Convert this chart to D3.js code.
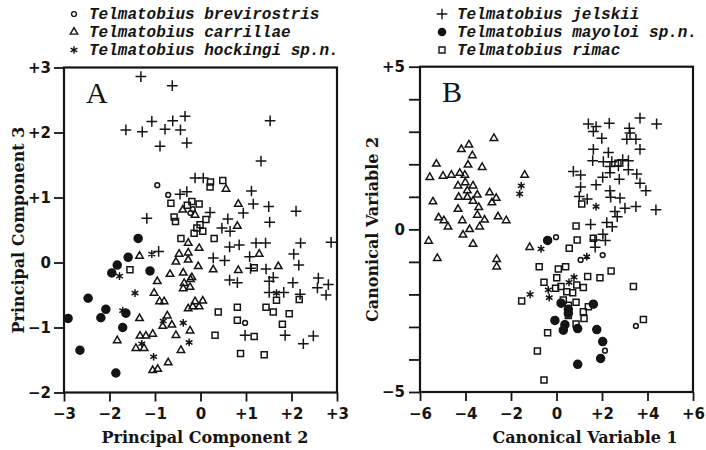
<!DOCTYPE html>
<html>
<head>
<meta charset="utf-8">
<script src="https://cdn.jsdelivr.net/npm/d3@7"></script>
<style>
    body { margin: 0; background: #fff; }
    svg text { fill: #141414; }
    .tick text { font-family: "DejaVu Sans", sans-serif; font-weight: bold; font-size: 15px; }
    .axis-title { font-family: "DejaVu Serif", serif; font-weight: bold; font-size: 16px; }
    .legend-text { font-family: "Liberation Mono", monospace; font-style: italic; font-weight: bold; font-size: 16px; }
    .panel-letter { font-family: "Liberation Serif", serif; font-size: 30px; }
</style>
</head>
<body>
<svg id="chart" width="706" height="450"></svg>
<script>
const species = ['Telmatobius brevirostris', 'Telmatobius carrillae', 'Telmatobius hockingi sp.n.',
    'Telmatobius jelskii', 'Telmatobius mayoloi sp.n.', 'Telmatobius rimac'];

// panel A: principal components (PC2, PC3)
const pcBrevirostris = [[-0.95,1.19],[-0.71,1.04],[-0.17,0.82],[-0.22,0.76],[0.98,-0.93]];
const pcCarrillae = [[0.56,1.13],[-0.39,0.81],[-0.12,0.73],[0.83,0.90],[0.81,0.56],[-0.27,0.30],[-0.03,0.22],
    [-0.47,0.13],[-0.27,0.15],[-0.54,0.01],[-0.27,0.04],[-0.05,-0.06],[1.29,0.13],[0.83,-0.12],[0.28,-0.11],
    [-0.67,-0.18],[-0.38,-0.16],[-0.19,-0.23],[1.71,-0.06],[-1.34,0.10],[-0.95,-0.29],[-1.02,-0.47],[-0.90,-0.60],
    [-0.80,-0.60],[-0.36,-0.32],[-0.22,-0.26],[-0.38,-0.40],[-0.23,-0.38],[-0.12,-0.60],[0.05,-0.59],[-0.27,-0.71],
    [-0.17,-0.68],[-0.03,-0.68],[-1.34,-0.86],[-0.73,-0.82],[-0.63,-0.96],[-0.83,-0.98],[-1.83,-1.20],[-1.33,-1.13],
    [-1.20,-1.13],[-1.05,-1.10],[-0.54,-1.12],[-0.23,-1.05],[-1.42,-1.32],[-1.24,-1.32],[-0.43,-1.35],[-0.71,-1.54],
    [-1.05,-1.66],[-0.94,-1.64]];
const pcHockingi = [[-1.07,0.13],[-1.78,-0.21],[-1.44,-0.47],[-1.71,-0.74],[-0.82,-0.90],[-0.38,-0.93],
    [-0.25,-1.23],[-1.29,-1.25],[-1.03,-1.45],[1.67,-0.47]];
const pcJelskii = [[-1.31,2.86],[-0.62,2.72],[-0.34,2.25],[-1.07,2.17],[-0.61,2.18],[-1.64,2.04],[-1.28,2.01],
    [-0.78,2.05],[-0.44,2.04],[1.53,2.18],[-0.89,1.79],[-0.30,1.84],[1.33,1.56],[-0.12,1.30],[0.06,1.30],
    [-0.45,1.05],[-0.30,1.09],[1.12,1.10],[1.16,0.90],[1.50,0.86],[2.10,0.79],[-1.18,0.68],[0.21,0.77],[0.60,0.67],
    [0.94,0.76],[1.52,0.62],[0.47,0.53],[0.65,0.48],[0.64,0.24],[0.85,0.27],[1.22,0.30],[1.43,0.30],[2.20,0.30],
    [2.87,0.31],[-0.92,0.17],[0.28,0.07],[0.53,0.03],[1.08,0.09],[2.05,0.13],[2.16,-0.04],[1.10,-0.09],[1.44,-0.10],
    [1.60,-0.23],[0.64,-0.27],[0.81,-0.31],[1.51,-0.29],[2.03,-0.31],[2.59,-0.24],[2.81,-0.34],[2.57,-0.39],
    [2.76,-0.50],[1.51,-0.46],[1.83,-0.46],[2.19,-0.49],[0.98,-1.12],[1.86,-1.12],[2.26,-1.25],[2.48,-1.13]];
const pcMayoloi = [[-1.37,0.37],[-1.59,0.08],[-1.83,-0.04],[-1.95,-0.16],[-1.11,-0.13],[-2.47,-0.55],[-2.08,-0.72],
    [-2.19,-0.85],[-1.64,-0.78],[-1.71,-1.00],[-2.91,-0.86],[-2.65,-1.35],[-1.86,-1.70]];
const pcRimac = [[0.22,1.24],[0.21,1.16],[0.49,1.26],[-0.65,0.91],[-0.29,0.88],[-0.19,0.94],[-0.03,0.90],
    [-0.58,0.70],[-0.55,0.63],[0.12,0.66],[-0.01,0.58],[-0.08,0.53],[0.05,0.48],[-0.14,0.45],[-0.43,0.37],
    [0.30,0.37],[1.18,-0.08],[-1.55,-0.11],[0.39,-0.76],[0.81,-0.69],[0.81,-0.89],[1.44,-0.69],[1.60,-0.76],
    [1.67,-0.58],[1.95,-0.79],[1.80,-0.95],[2.17,-0.57],[0.32,-1.12],[1.18,-1.14],[0.88,-1.40],[1.40,-1.42]];

// panel B: canonical variables (CV1, CV2)
const cvBrevirostris = [[-0.02,-0.24],[1.06,-0.94],[2.03,-0.79],[3.49,-2.97],[2.13,-3.73]];
const cvCarrillae = [[-2.75,2.80],[-3.85,2.60],[-4.18,2.46],[-3.70,2.27],[-5.28,2.01],[-3.89,1.98],[-3.27,1.91],
    [-5.57,1.60],[-4.99,1.64],[-4.62,1.67],[-4.25,1.73],[-4.03,1.67],[-1.40,1.67],[-4.01,1.44],[-4.33,1.34],
    [-3.67,1.34],[-3.92,1.19],[-2.94,1.13],[-3.48,1.06],[-4.30,0.99],[-3.92,0.99],[-2.65,0.96],[-3.67,0.87],
    [-2.84,0.82],[-5.43,0.85],[-3.42,0.68],[-4.33,0.62],[-3.48,0.44],[-2.57,0.39],[-3.16,0.29],[-2.21,0.27],
    [-5.18,0.36],[-4.95,0.27],[-4.77,0.08],[-4.14,0.27],[-3.38,0.08],[-3.82,0.00],[-4.11,-0.17],[-5.62,-0.36],
    [-3.67,-0.45],[-1.18,-0.55],[-5.24,-0.89],[-2.63,-0.92],[-2.63,-1.15]];
const cvHockingi = [[-1.55,1.34],[-1.62,1.09],[-0.68,-0.60],[1.33,-0.84],[-1.16,-2.00],[-0.36,-1.86],
    [-0.32,-2.10],[0.55,-1.63],[0.77,-1.47],[1.74,0.70]];
const cvJelskii = [[3.67,3.42],[4.40,3.24],[2.32,3.26],[1.40,3.24],[1.74,3.16],[1.62,3.01],[1.99,2.80],[3.20,3.11],
    [3.23,2.96],[3.09,2.77],[3.49,2.77],[3.67,2.46],[1.62,2.46],[2.28,2.36],[1.59,2.11],[2.06,2.08],[2.43,2.08],
    [2.91,2.14],[3.16,2.11],[2.72,1.95],[2.35,1.93],[3.16,1.83],[0.74,1.78],[1.06,1.67],[3.53,1.70],[2.35,1.74],
    [2.03,1.60],[2.76,1.54],[1.74,1.37],[3.67,1.42],[1.06,1.30],[3.93,1.19],[2.35,1.19],[2.38,0.99],[2.79,0.96],
    [1.00,1.01],[1.35,0.93],[3.49,0.70],[3.01,0.65],[4.37,0.60],[2.57,0.55],[2.67,0.39],[1.50,0.15],[2.21,0.21],
    [2.45,0.08],[2.04,-0.15],[2.15,-0.34],[1.70,-0.55],[1.69,-0.33]];
const cvMayoloi = [[-0.39,-0.34],[0.20,-2.27],[0.52,-2.46],[0.52,-2.58],[1.62,-2.30],[-0.07,-2.80],[0.37,-2.93],
    [0.30,-3.10],[0.93,-3.05],[1.77,-3.08],[2.03,-3.45],[1.94,-3.97],[0.93,-4.15]];
const cvRimac = [[0.86,0.10],[0.91,-0.33],[1.62,-0.27],[0.56,-0.58],[-0.76,-1.15],[0.08,-1.22],[0.40,-1.15],
    [2.40,-1.28],[0.01,-1.49],[-0.55,-1.63],[1.37,-1.45],[1.91,-1.49],[0.89,-1.71],[1.18,-1.79],[-0.04,-1.81],
    [0.20,-1.76],[0.45,-1.92],[0.71,-1.95],[-1.53,-2.20],[0.30,-2.17],[0.86,-2.24],[0.52,-2.33],[0.52,-2.65],
    [1.18,-2.53],[1.21,-2.74],[1.40,-2.38],[0.86,-2.91],[-0.39,-3.18],[-0.84,-3.74],[3.38,-1.76],[3.82,-2.77],
    [-0.55,-4.63],[1.11,0.78],[2.70,2.03]];

// tick values
const pcXTicks = [-3, -2, -1, 0, 1, 2, 3];
const pcYTicks = [-2, -1, 0, 1, 2, 3];
const cvXTicks = [-6, -4, -2, 0, 2, 4, 6];
const cvYTicks = [-5, -4, -3, -2, -1, 0, 1, 2, 3, 4, 5];
const cvYLabelled = [-5, 0, 5];

const signed = d => d > 0 ? '+' + d : d < 0 ? '\u2212' + (-d) : '0';

// stroked marker shapes, size = width squared
const plusType = { draw(ctx, size) { const r = Math.sqrt(size) / 2;
    ctx.moveTo(-r, 0); ctx.lineTo(r, 0); ctx.moveTo(0, -r); ctx.lineTo(0, r); } };
const starType = { draw(ctx, size) { const r = Math.sqrt(size) / 2;
    [90, 30, 150].forEach(a => { const c = Math.cos(a * Math.PI / 180) * r, s = Math.sin(a * Math.PI / 180) * r;
        ctx.moveTo(-c, -s); ctx.lineTo(c, s); }); } };
const triType = { draw(ctx, size) { const w = Math.sqrt(size), h = w * Math.sqrt(3) / 2;
    ctx.moveTo(0, -h * 2 / 3); ctx.lineTo(w / 2, h / 3); ctx.lineTo(-w / 2, h / 3); ctx.closePath(); } };
const squareType = { draw(ctx, size) { const w = Math.sqrt(size) / 2;
    ctx.moveTo(-w, -w); ctx.lineTo(w, -w); ctx.lineTo(w, w); ctx.lineTo(-w, w); ctx.closePath(); } };

const markers = [
    { type: d3.symbolCircle, size: Math.PI * 2.4 * 2.4, fill: 'none' },
    { type: triType, size: 56, fill: 'none' },
    { type: starType, size: 60, fill: 'none' },
    { type: plusType, size: 115, fill: 'none' },
    { type: d3.symbolCircle, size: Math.PI * 4 * 4, fill: '#141414' },
    { type: squareType, size: 36, fill: 'none' }
];

const svg = d3.select('#chart');

const panels = [
    { letter: 'A', left: 64, right: 337, top: 67.5, bottom: 392.5, xDomain: [-3, 3], yDomain: [-2, 3],
      xTicks: pcXTicks, yTicks: pcYTicks, yLabelled: pcYTicks, yTickSize: 10, yPad: 3,
      series: [pcBrevirostris, pcCarrillae, pcHockingi, pcJelskii, pcMayoloi, pcRimac],
      xTitle: 'Principal Component 2', xTitleX: 205, yTitle: 'Principal Component 3', yTitleX: 24 },
    { letter: 'B', left: 420, right: 693, top: 66.7, bottom: 392, xDomain: [-6, 6], yDomain: [-5, 5],
      xTicks: cvXTicks, yTicks: cvYTicks, yLabelled: cvYLabelled, yTickSize: 11, yPad: 4,
      series: [cvBrevirostris, cvCarrillae, cvHockingi, cvJelskii, cvMayoloi, cvRimac],
      xTitle: 'Canonical Variable 1', xTitleX: 585, yTitle: 'Canonical Variable 2', yTitleX: 378 }
];

panels.forEach(p => {
    const x = d3.scaleLinear().domain(p.xDomain).range([p.left, p.right]);
    const y = d3.scaleLinear().domain(p.yDomain).range([p.bottom, p.top]);
    const g = svg.append('g');

    const yAxis = g.append('g')
        .attr('transform', `translate(${p.left},0)`)
        .call(d3.axisLeft(y).tickValues(p.yTicks).tickSize(p.yTickSize).tickPadding(p.yPad)
            .tickFormat(d => p.yLabelled.includes(d) ? signed(d) : ''));
    const xAxis = g.append('g')
        .attr('transform', `translate(0,${p.bottom})`)
        .call(d3.axisBottom(x).tickValues(p.xTicks).tickSize(9).tickPadding(7).tickFormat(signed));
    [xAxis, yAxis].forEach(a => {
        a.select('.domain').remove();
        a.selectAll('.tick line').attr('stroke', '#141414').attr('stroke-width', 1.8);
        a.attr('font-family', null).attr('font-size', null);
    });

    g.append('rect')
        .attr('x', p.left).attr('y', p.top)
        .attr('width', p.right - p.left).attr('height', p.bottom - p.top)
        .attr('fill', 'none').attr('stroke', '#141414').attr('stroke-width', 2.2);

    g.append('text').attr('class', 'panel-letter')
        .attr('x', x(p.xDomain[0]) + 22).attr('y', p.top + 35).text(p.letter);

    g.append('text').attr('class', 'axis-title')
        .attr('x', p.xTitleX).attr('y', 443).attr('text-anchor', 'middle').text(p.xTitle);
    g.append('text').attr('class', 'axis-title')
        .attr('transform', `translate(${p.yTitleX},${(p.top + p.bottom) / 2}) rotate(-90)`)
        .attr('text-anchor', 'middle').text(p.yTitle);

    p.series.forEach((data, i) => {
        const m = markers[i];
        g.append('g').selectAll('path')
            .data(data)
            .join('path')
            .attr('transform', d => `translate(${x(d[0])},${y(d[1])})`)
            .attr('d', d3.symbol().type(m.type).size(m.size))
            .attr('fill', m.fill)
            .attr('stroke', '#141414')
            .attr('stroke-width', 1.5);
    });
});

// legend, two columns of three
const legend = svg.append('g');
species.forEach((name, i) => {
    const col = Math.floor(i / 3), row = i % 3;
    const mx = col === 0 ? 74 : 442;
    const by = 19 + row * 18;
    const m = markers[i];
    legend.append('path')
        .attr('transform', `translate(${mx},${by - 5})`)
        .attr('d', d3.symbol().type(m.type).size(m.size * (i === 4 ? 0.8 : 1)))
        .attr('fill', m.fill)
        .attr('stroke', '#141414')
        .attr('stroke-width', 1.4);
    legend.append('text').attr('class', 'legend-text')
        .attr('x', mx + 15).attr('y', by).text(name);
});
</script>
</body>
</html>
